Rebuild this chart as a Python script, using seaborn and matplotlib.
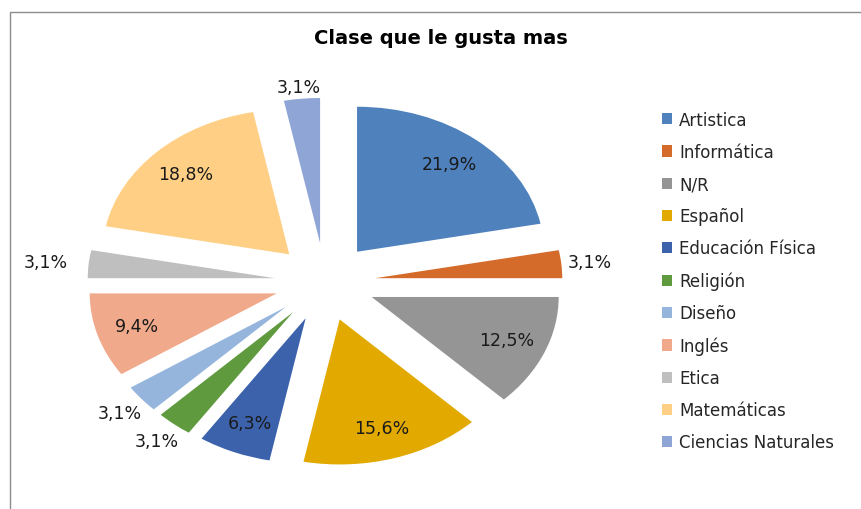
import numpy as np
import seaborn as sns
import matplotlib.pyplot as plt
from matplotlib.patches import Rectangle

# Data
CATEGORIES = [
    "Artistica", "Informática", "N/R", "Español", "Educación Física",
    "Religión", "Diseño", "Inglés", "Etica", "Matemáticas", "Ciencias Naturales",
]
PERCENTS = [21.9, 3.1, 12.5, 15.6, 6.3, 3.1, 3.1, 9.4, 3.1, 18.8, 3.1]
LABELS = ["21,9%", "3,1%", "12,5%", "15,6%", "6,3%", "3,1%", "3,1%", "9,4%", "3,1%", "18,8%", "3,1%"]

# Define COLORS
COLORS = [
    "#4F81BD", "#D46B2A", "#959595", "#E2AA00", "#3C62AC",
    "#5F9A3E", "#95B5DD", "#F0A98A", "#BFBFBF", "#FFCF85", "#8FA5D6",
]

sns.set_theme(style="white")
plt.rcParams["font.family"] = ["DejaVu Sans"]
palette = sns.color_palette(COLORS)

fig = plt.figure(figsize=(8.62, 5.10), dpi=100)
ax = fig.add_axes([44.5 / 862, 9.5 / 510, 561 / 862, 435 / 510])

wedges, _ = ax.pie(
    PERCENTS, colors=palette, startangle=90, counterclock=False,
    explode=[0.27] * len(PERCENTS), wedgeprops={"linewidth": 0},
)
# the original picture is stretched horizontally
ax.set_aspect("auto")
ax.set_xlim(-1.5, 1.5)
ax.set_ylim(-1.5, 1.5)
ax.axis("off")

for w, pct, lab in zip(wedges, PERCENTS, LABELS):
    theta = np.deg2rad((w.theta1 + w.theta2) / 2)
    dist = 0.78 if pct > 5 else 1.15
    cx, cy = w.center
    x = cx + dist * w.r * np.cos(theta)
    y = cy + dist * w.r * np.sin(theta)
    if pct < 5 and np.sin(theta) > 0.9:
        y -= 0.07  # top label sits closer to its slice
    if pct < 5 and np.cos(theta) < -0.95:
        x -= 0.08
    ax.text(x, y, lab, ha="center", va="center", fontsize=12.5, color="#1a1a1a")

fig.text(441 / 862, 1 - 38 / 510, "Clase que le gusta mas", ha="center", va="center",
         fontsize=14, fontweight="bold", color="black")

ax.legend(wedges, CATEGORIES, loc="center left", bbox_to_anchor=(655 / 862, 1 - 282 / 510),
          bbox_transform=fig.transFigure, frameon=False, fontsize=12,
          handlelength=0.65, handleheight=0.65, handletextpad=0.4, labelspacing=0.85,
          borderaxespad=0)

# chart area border (right and bottom edges are cut off in the original)
fig.patches.append(Rectangle((10 / 862, -0.1), 1.0, 1 - 13 / 510 + 0.1, transform=fig.transFigure,
                             fill=False, edgecolor="#8c8c8c", linewidth=1))

plt.savefig("out.png", dpi=100)
